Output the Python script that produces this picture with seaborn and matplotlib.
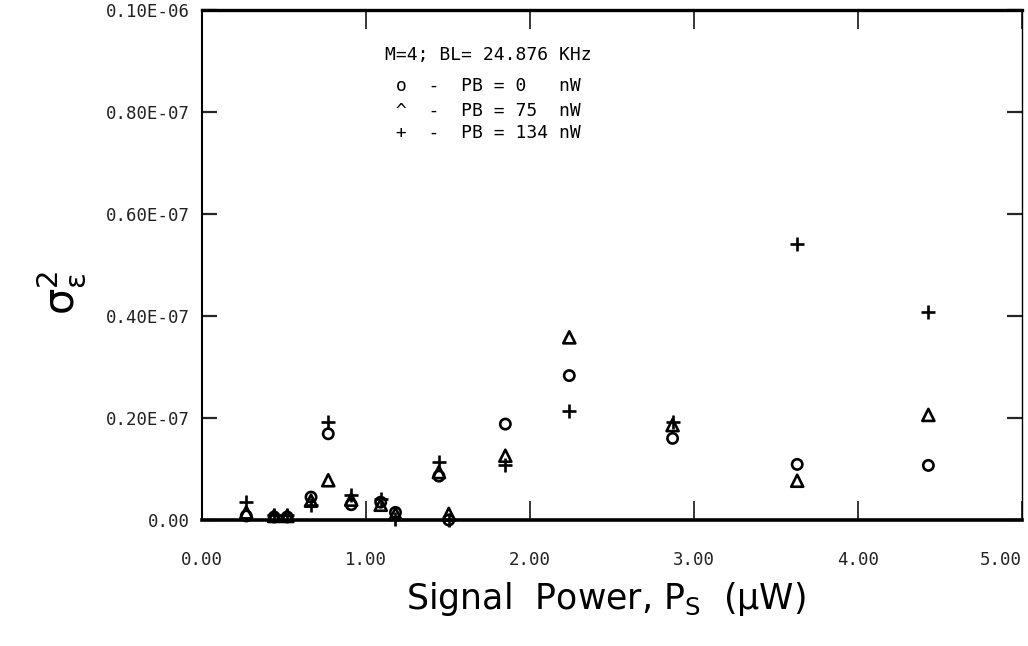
import matplotlib
matplotlib.use("Agg")
import matplotlib.pyplot as plt
import seaborn as sns
import pandas as pd

# Signal power (uW) and tracking-error variance for three background powers
power = [0.27, 0.44, 0.52, 0.665, 0.77, 0.91, 1.09, 1.18, 1.445, 1.505,
         1.85, 2.24, 2.87, 3.63, 4.43]
var_pb0 = [0.08, 0.06, 0.06, 0.45, 1.69, 0.30, 0.35, 0.15, 0.86, 0.00,
           1.88, 2.83, 1.60, 1.09, 1.07]
var_pb75 = [0.15, 0.08, 0.08, 0.38, 0.78, 0.40, 0.30, 0.12, 0.94, 0.12,
            1.26, 3.58, 1.86, 0.77, 2.06]
var_pb134 = [0.35, 0.10, 0.10, 0.30, 1.93, 0.50, 0.42, 0.02, 1.14, 0.00,
             1.08, 2.14, 1.92, 5.40, 4.08]
scale = 1e-8

x_ticks = [0, 1, 2, 3, 4, 5]
x_tick_labels = ["0.00", "1.00", "2.00", "3.00", "4.00", "5.00"]
y_ticks = [0, 2e-8, 4e-8, 6e-8, 8e-8, 1e-7]
y_tick_labels = ["0.00", "0.20E-07", "0.40E-07", "0.60E-07", "0.80E-07", "0.10E-06"]

legend_lines = ["M=4; BL= 24.876 KHz",
                " o  -  PB = 0   nW",
                " ^  -  PB = 75  nW",
                " +  -  PB = 134 nW"]

sns.set_style("ticks")
plt.rcParams["font.family"] = ["DejaVu Sans"]
plt.rcParams["mathtext.default"] = "regular"

df = pd.DataFrame({
    "power": power * 3,
    "var": [v * scale for v in var_pb0 + var_pb75 + var_pb134],
    "pb": ["0"] * len(power) + ["75"] * len(power) + ["134"] * len(power),
})

fig = plt.figure(figsize=(10.28, 6.46), dpi=100)
ax = fig.add_axes([0.1965, 0.195, 0.7975, 0.79])

sns.scatterplot(data=df[df.pb == "0"], x="power", y="var", marker="o",
                s=55, facecolors="none", edgecolor="black", linewidth=1.9,
                ax=ax, clip_on=False, legend=False)
sns.scatterplot(data=df[df.pb == "75"], x="power", y="var", marker="^",
                s=75, facecolors="none", edgecolor="black", linewidth=1.9,
                ax=ax, clip_on=False, legend=False)
sns.scatterplot(data=df[df.pb == "134"], x="power", y="var", marker="+",
                s=110, color="black", linewidth=1.9,
                ax=ax, clip_on=False, legend=False)

ax.set_xlim(0, 5)
ax.set_ylim(0, 1e-7)

mono = "DejaVu Sans Mono"
ax.set_xticks(x_ticks)
ax.set_xticklabels(x_tick_labels, fontsize=12.5, family=mono, color="#222")
ax.get_xticklabels()[-1].set_ha("right")
ax.set_yticks(y_ticks)
ax.set_yticklabels(y_tick_labels, fontsize=12.5, family=mono, color="#222")

ax.tick_params(axis="x", which="both", direction="in", length=14, width=1.3,
               pad=22, top=True, bottom=True)
ax.tick_params(axis="y", which="both", direction="in", length=11, width=1.6,
               pad=9, left=True, right=True)

for side, lw in [("bottom", 2.6), ("top", 2.4), ("left", 1.5), ("right", 1.0)]:
    ax.spines[side].set_visible(True)
    ax.spines[side].set_linewidth(lw)
    ax.spines[side].set_color("black")

ax.set_xlabel(r"Signal  Power, P$_{S}$  ($\mu$W)", fontsize=25, color="black")
ax.xaxis.set_label_coords(0.493, -0.118)
ax.set_ylabel(r"$\sigma^{2}_{\varepsilon}$", fontsize=30, rotation=90,
              color="black")
label_y = 0.445
ax.yaxis.set_label_coords(-0.2, label_y)
ax.yaxis.label.set_horizontalalignment("center")

line_y = [0.912, 0.851, 0.802, 0.759]
for txt, yy in zip(legend_lines, line_y):
    ax.text(0.223, yy, txt, transform=ax.transAxes, family=mono,
            fontsize=13, va="center", ha="left", color="black")

fig.canvas.draw()
# place the y label so its left edge sits near x = 35 px
bb = ax.yaxis.label.get_window_extent()
dx = 35 - bb.x0
inv = ax.transAxes.inverted()
x_ax = inv.transform((ax.transAxes.transform((-0.2, 0))[0] + dx, 0))[0]
ax.yaxis.set_label_coords(x_ax, label_y)

fig.savefig("out.png", dpi=100)
